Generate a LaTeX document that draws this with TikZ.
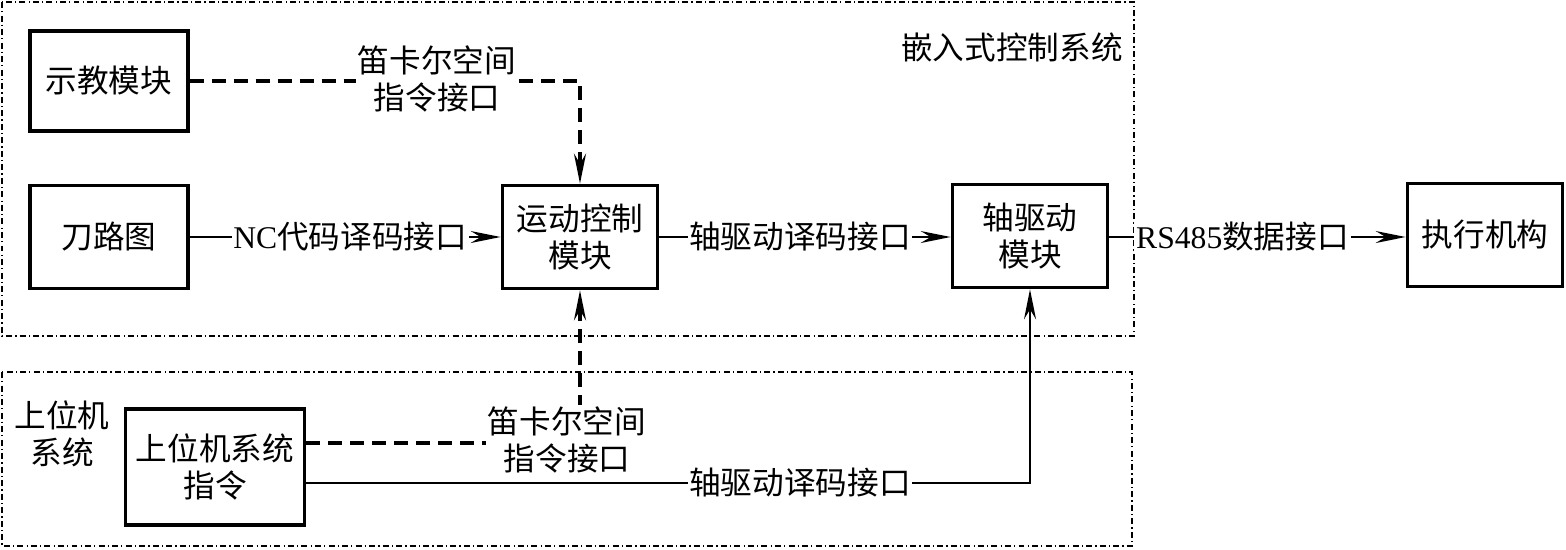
\documentclass[tikz,border=0pt]{standalone}
\usepackage{fontspec}
\setmainfont{Liberation Serif}
\newfontfamily\cjk{Noto Sans CJK SC}
\usetikzlibrary{arrows.meta}
\newcommand\zh[1]{{\cjk #1}}
\begin{document}
\begin{tikzpicture}[x=0.02cm,y=-0.02cm,
  every node/.style={font=\fontsize{18}{21}\selectfont, align=center},
  blk/.style={draw, line width=2.1pt, inner sep=0pt},
  frame/.style={line width=0.9pt, dash pattern=on 3.4pt off 1.8pt on 0.7pt off 1.8pt},
  tip/.style={-{Stealth[length=0.6cm,width=0.24cm,inset=0.2cm]}},
  conn/.style={line width=1.3pt, tip},
  dconn/.style={line width=1.9pt, dash pattern=on 8pt off 4.5pt, tip},
  lab/.style={fill=white, inner sep=1pt}]
\useasboundingbox (0,0) rectangle (1566,549);
% frames
\draw[frame] (2,2) rectangle (1134,336);
\draw[frame] (2,372) rectangle (1132,546);
% blocks
\node[blk, minimum width=3.16cm, minimum height=2.0cm] (teach) at (109,81) {\zh{示教模块}};
\node[blk, minimum width=3.16cm, minimum height=2.06cm] (path) at (109,237) {\zh{刀路图}};
\node[blk, minimum width=3.1cm, minimum height=2.06cm] (motion) at (580,237) {\zh{运动控制}\\\zh{模块}};
\node[blk, minimum width=3.1cm, minimum height=2.06cm] (axis) at (1030,236) {\zh{轴驱动}\\\zh{模块}};
\node[blk, minimum width=3.1cm, minimum height=2.06cm] (exec) at (1485,235) {\zh{执行机构}};
\node[blk, minimum width=3.58cm, minimum height=2.32cm] (host) at (215,467) {\zh{上位机系统}\\\zh{指令}};
% frame labels
\node[anchor=east, inner sep=0pt] (embl) at (1123,47) {\zh{嵌入式控制系统}};
\node[inner sep=0pt] (hostl) at (62,434) {\zh{上位机}\\\zh{系统}};
% connectors
\draw[dconn] (teach.east) -| (motion.north);
\node[lab] (l1) at (437,79) {\zh{笛卡尔空间}\\\zh{指令接口}};
\draw[conn] (path.east) -- (motion.west) node[lab, midway, xshift=0.1cm] (l2) {NC\zh{代码译码接口}};
\draw[conn] (motion.east) -- (axis.west |- motion.east) node[lab, midway, xshift=-0.1cm] (l3) {\zh{轴驱动译码接口}};
\draw[conn] (axis.east |- motion.east) -- (exec.west |- motion.east) node[lab, midway, xshift=-0.3cm] (l4) {RS485\zh{数据接口}};
\draw[dconn] (host.east |- 0,443) -| (motion.south);
\node[lab] (l5) at (567,440) {\zh{笛卡尔空间}\\\zh{指令接口}};
\draw[conn] (host.east |- 0,483) -| (axis.south);
\node[lab] (l6) at (800,483) {\zh{轴驱动译码接口}};
\end{tikzpicture}
\end{document}
